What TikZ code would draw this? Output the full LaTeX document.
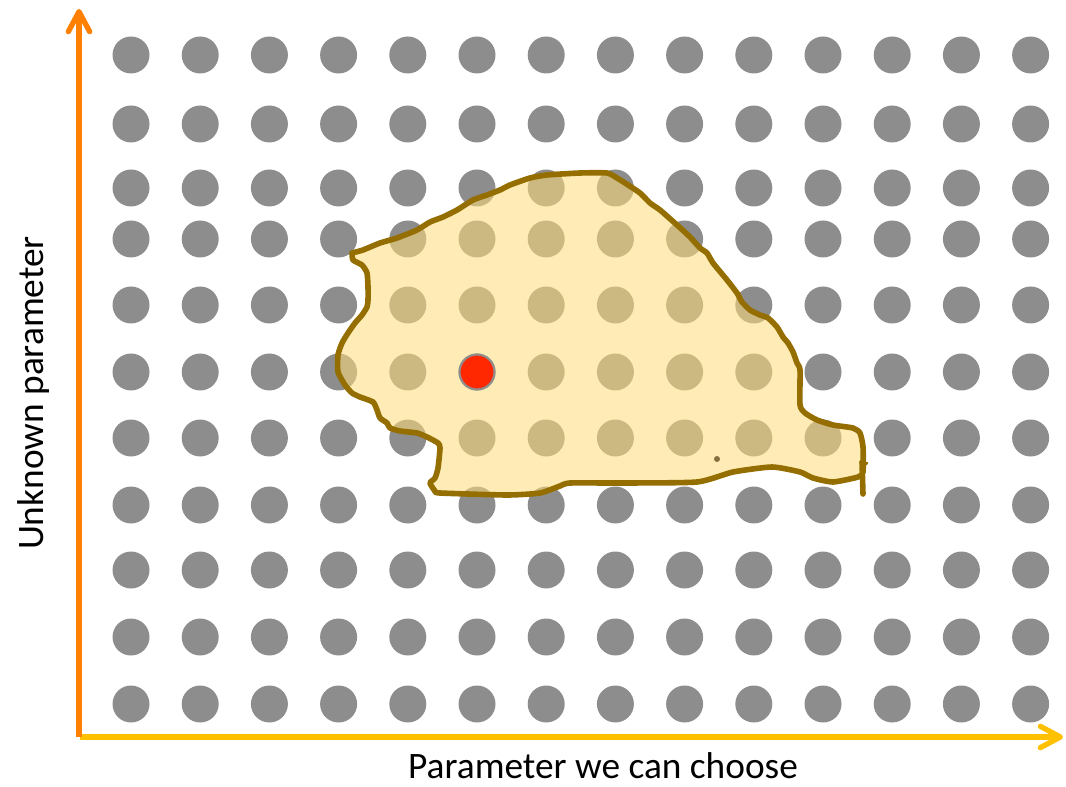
\documentclass[tikz,border=0pt]{standalone}
\usepackage{fontspec}
\setmainfont{Carlito}
\usetikzlibrary{arrows.meta}
\definecolor{dotgray}{RGB}{141,141,141}
\definecolor{axisorange}{RGB}{255,128,0}
\definecolor{axisyellow}{RGB}{255,192,0}
\definecolor{blobfill}{RGB}{255,220,123}
\definecolor{blobline}{RGB}{148,110,0}
\definecolor{hotred}{RGB}{255,40,0}
\definecolor{specks}{RGB}{135,110,65}
\tikzset{
  griddot/.style={fill=dotgray, draw=none},
  axisline/.style={line width=4pt, -{Straight Barb[length=15pt,width=16pt,line cap=round,round]}},
  blobshape/.style={draw=blobline, line width=4.2pt, line join=round, line cap=round, fill=blobfill, fill opacity=0.56, draw opacity=1},
  axislabel/.style={font=\fontsize{28}{34}\selectfont, text=black, inner sep=0pt, text depth=0pt},
}
\begin{document}
\begin{tikzpicture}[x=0.75pt,y=-0.75pt]
\useasboundingbox (0,0) rectangle (1066,787);
% grid of dots
\foreach \yy in {55,124,188,239,305,372,438,505,570,637,704}{
  \foreach \k in {0,...,13}{
    \fill[griddot] ({131+69.2*\k},\yy) circle[radius=18.5];
  }
}
% feasible region
\path[blobshape] plot[smooth, tension=0.35] coordinates {
(352,253) (363,250) (380,243) (397,238) (417,230) (430,222) (443,217) (457,210) (473,200) (487,195) (500,190) (510,185) (530,178) (547,175) (580,173) (607,173) (617,178) (625,183) (640,193) (650,203) (660,210) (677,225) (690,237) (700,248) (707,253) (713,263) (727,280) (737,293) (742,302) (750,310) (760,315) (768,318) (777,327) (783,337) (788,343) (793,352) (797,363) (800,370) (800,405) (805,413) (817,420) (833,425) (853,428) (860,433) (863,447) (863,472) (858,477) (833,482) (813,478) (800,472) (772,467) (733,472) (697,482) (620,483) (570,483) (560,486) (540,493) (507,495) (440,493) (435,491) (430,483) (435,478) (438,468) (440,448) (438,443) (427,437) (417,433) (400,431) (390,428) (387,423) (380,418) (377,410) (373,402) (360,397) (352,393) (345,385) (338,372) (338,355) (342,343) (348,333) (355,323) (362,315) (367,307) (368,300) (368,287) (367,273) (362,265) (353,260) (352,253)
};
\coordinate (stubtop) at (862,462);
\coordinate (stubend) at (863,494);
\draw[blobline, line width=4.2pt, line cap=round] (stubtop) -- (stubend);
\coordinate (ticka) at (863,466);
\coordinate (tickb) at (867,463);
\draw[blobline, line width=2pt, line cap=round] (ticka) -- (tickb);
\fill[specks] (717,459) circle[radius=3];
% chosen point
\node[circle, minimum size=26.3pt, inner sep=0pt, fill=hotred, draw=dotgray, line width=1.6pt] (chosen) at (477,372) {};
% axes
\coordinate (origin) at (79,737);
\coordinate (ytip) at (79,9);
\coordinate (xstart) at (80,737);
\coordinate (xtip) at (1063,737);
\draw[axisline, axisyellow] (xstart) -- (xtip);
\draw[axisline, axisorange] (origin) -- (ytip);
% labels
\node[axislabel, anchor=base] (xlabel) at (603,778) {Parameter we can choose};
\node[axislabel, rotate=90] (ylabel) at (31,393) {Unknown parameter};
\end{tikzpicture}
\end{document}
